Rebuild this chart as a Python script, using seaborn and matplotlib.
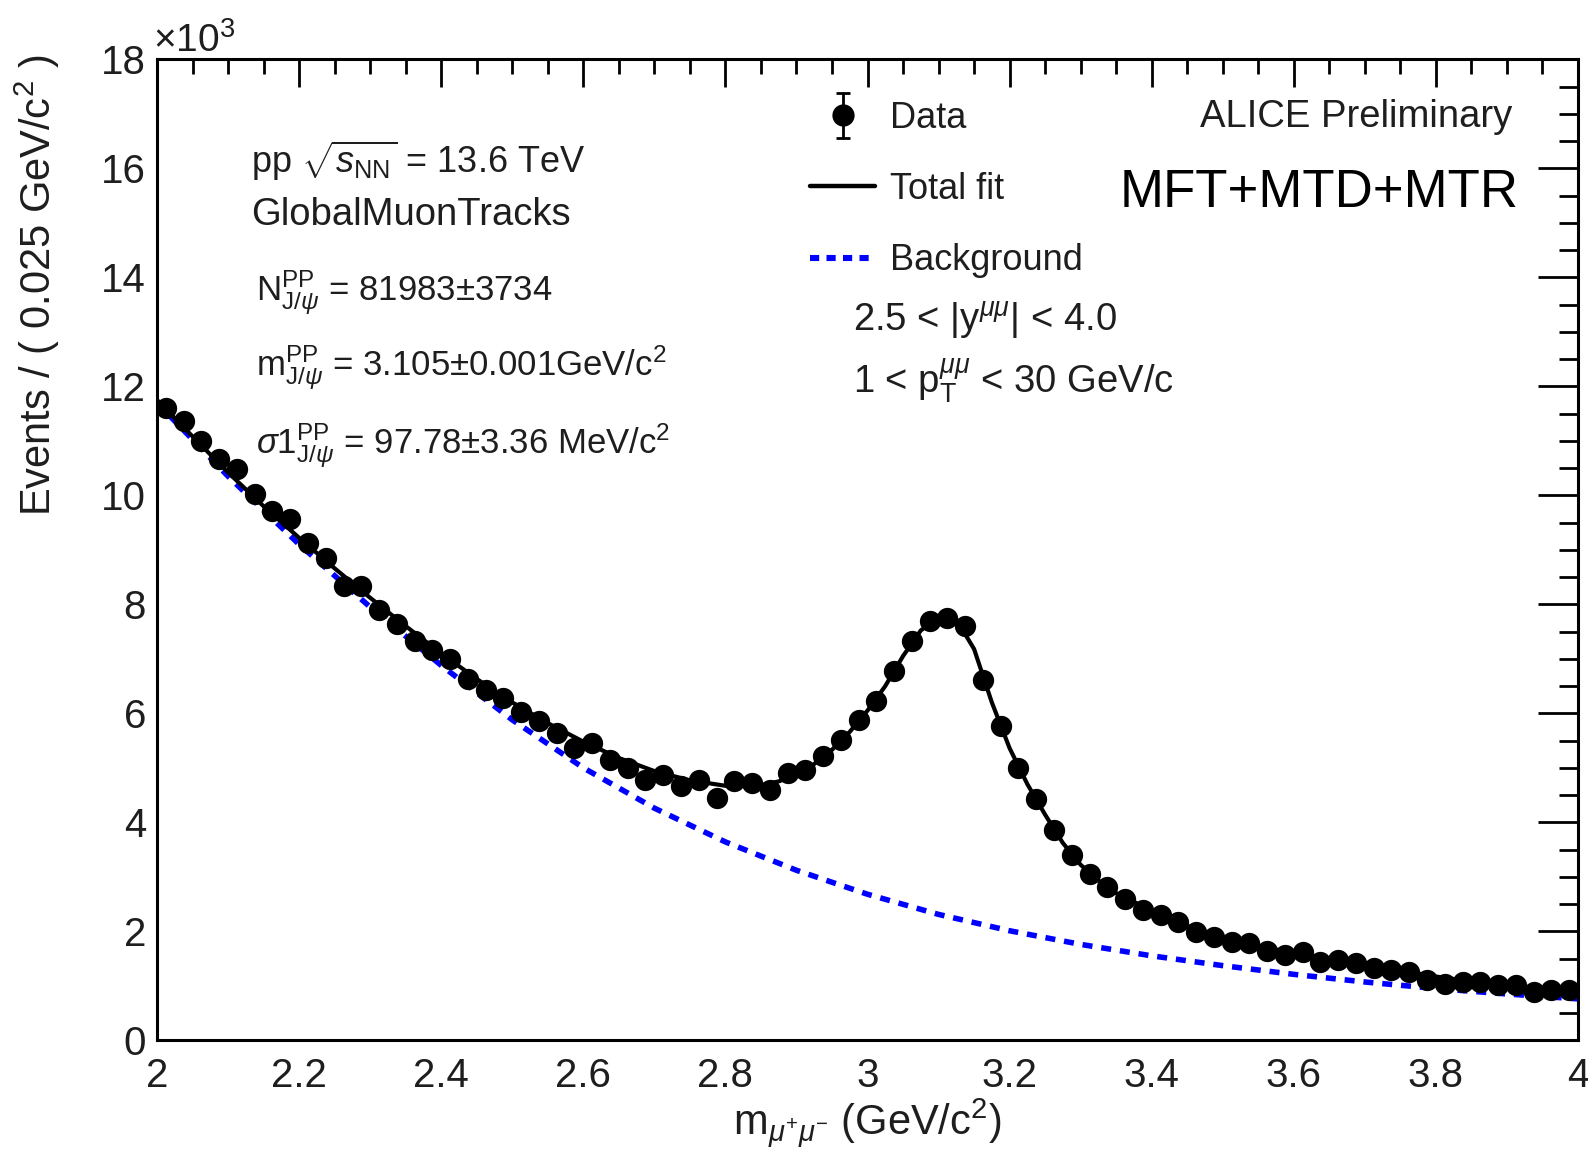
import numpy as np
import pandas as pd
import matplotlib
matplotlib.use("Agg")
import matplotlib.pyplot as plt
import seaborn as sns
from matplotlib.lines import Line2D
from matplotlib.collections import LineCollection
from matplotlib.container import ErrorbarContainer
from matplotlib.legend_handler import HandlerErrorbar
from matplotlib.ticker import MultipleLocator, FuncFormatter

# ---- dimuon invariant-mass spectrum (events per 0.025 GeV/c^2, in units of 10^3) ----
bin_width = 0.025
mass_centres = np.round(2.0 + bin_width * (np.arange(80) + 0.5), 4)
events_k = [
    11.61, 11.37, 11.00, 10.66, 10.48, 10.02, 9.71, 9.56, 9.13, 8.85,
    8.33, 8.33, 7.90, 7.63, 7.32, 7.17, 6.99, 6.63, 6.43, 6.28,
    6.03, 5.85, 5.64, 5.36, 5.45, 5.15, 4.99, 4.78, 4.87, 4.66,
    4.78, 4.44, 4.75, 4.72, 4.60, 4.90, 4.96, 5.21, 5.51, 5.88,
    6.22, 6.77, 7.32, 7.69, 7.75, 7.60, 6.62, 5.76, 4.99, 4.43,
    3.86, 3.40, 3.06, 2.82, 2.60, 2.39, 2.30, 2.17, 1.99, 1.90,
    1.81, 1.78, 1.64, 1.57, 1.62, 1.44, 1.47, 1.41, 1.32, 1.29,
    1.26, 1.10, 1.04, 1.07, 1.07, 1.01, 1.01, 0.89, 0.92, 0.92,
]

# total fit (signal + background)
fit_mass = [
    2.00, 2.05, 2.10, 2.15, 2.20, 2.25, 2.30, 2.35, 2.40, 2.45,
    2.50, 2.55, 2.60, 2.65, 2.70, 2.75, 2.80, 2.85, 2.875, 2.90,
    2.925, 2.95, 2.975, 3.00, 3.025, 3.05, 3.075, 3.10, 3.125, 3.15,
    3.175, 3.20, 3.225, 3.25, 3.275, 3.30, 3.325, 3.35, 3.40, 3.45,
    3.50, 3.55, 3.60, 3.65, 3.70, 3.75, 3.80, 3.85, 3.90, 3.95, 4.00,
]
fit_total = [
    11.75, 11.08, 10.42, 9.80, 9.22, 8.66, 8.12, 7.60, 7.10, 6.63,
    6.20, 5.82, 5.48, 5.18, 4.94, 4.77, 4.67, 4.68, 4.75, 4.88,
    5.07, 5.33, 5.66, 6.05, 6.50, 7.05, 7.52, 7.76, 7.72, 7.18,
    6.20, 5.36, 4.70, 4.14, 3.62, 3.22, 2.93, 2.70, 2.38, 2.10,
    1.88, 1.73, 1.60, 1.49, 1.38, 1.28, 1.17, 1.08, 1.01, 0.95, 0.90,
]

# background component of the fit
bkg_mass = [2.0, 2.1, 2.2, 2.3, 2.4, 2.5, 2.6, 2.7, 2.8, 2.9, 3.0,
            3.1, 3.2, 3.3, 3.4, 3.5, 3.6, 3.7, 3.8, 3.9, 4.0]
bkg_values = [11.70, 10.35, 9.10, 7.95, 6.88, 5.88, 5.00, 4.26, 3.64, 3.12, 2.68,
              2.31, 2.01, 1.76, 1.55, 1.37, 1.21, 1.07, 0.95, 0.85, 0.76]

x_ticks = [2.0, 2.2, 2.4, 2.6, 2.8, 3.0, 3.2, 3.4, 3.6, 3.8, 4.0]
y_ticks = [0, 2, 4, 6, 8, 10, 12, 14, 16, 18]

# ---- style ----
sns.set_theme(style="white")
plt.rcParams["font.family"] = ["Liberation Sans", "DejaVu Sans"]
plt.rcParams["mathtext.fontset"] = "custom"
plt.rcParams["mathtext.rm"] = "Liberation Sans"
plt.rcParams["mathtext.it"] = "Liberation Sans:italic"
plt.rcParams["mathtext.bf"] = "Liberation Sans:bold"
plt.rcParams["mathtext.sf"] = "Liberation Sans"

W, H = 1588, 1153
fig = plt.figure(figsize=(W / 100, H / 100), dpi=100)
fig.patch.set_facecolor("white")

# axes frame in pixel units
ax_l, ax_r, ax_t, ax_b = 157, 1578, 59.3, 1040.3
ax = fig.add_axes([ax_l / W, 1 - ax_b / H, (ax_r - ax_l) / W, (ax_b - ax_t) / H])
ax.set_facecolor("white")

TXT = "#1e1e1e"
BLUE = "#0000ff"

df = pd.DataFrame({"mass": mass_centres, "events": events_k})
sns.lineplot(x=bkg_mass, y=bkg_values, ax=ax, color=BLUE, linewidth=4.0,
             zorder=2, sort=False)
ax.lines[-1].set_linestyle((0, (1.8, 1.6)))
ax.lines[-1].set_dash_capstyle("butt")
sns.lineplot(x=fit_mass, y=fit_total, ax=ax, color="black", linewidth=3.0,
             zorder=2.5, sort=False)
sns.scatterplot(data=df, x="mass", y="events", ax=ax, s=235, color="black",
                edgecolor="black", linewidth=0, zorder=3, legend=False)

ax.set_xlim(2, 4)
ax.set_ylim(0, 18)
ax.set_xticks(x_ticks)
ax.set_yticks(y_ticks)
ax.xaxis.set_major_formatter(FuncFormatter(lambda v, p: f"{v:g}"))
ax.yaxis.set_major_formatter(FuncFormatter(lambda v, p: f"{v:g}"))
ax.xaxis.set_minor_locator(MultipleLocator(0.05))
ax.yaxis.set_minor_locator(MultipleLocator(0.5))

for s in ax.spines.values():
    s.set_linewidth(2.2)
    s.set_color("black")
ax.tick_params(which="both", direction="in", top=True, right=True,
               width=2.0, color="black", labelcolor=TXT, labelsize=29)
ax.tick_params(axis="x", which="major", length=20, pad=12)
ax.tick_params(axis="x", which="minor", length=11)
ax.tick_params(axis="y", which="major", length=29, pad=8)
ax.tick_params(axis="y", which="minor", length=14)

ax.set_xlabel(r"m$_{\mu^{+}\mu^{-}}$ (GeV/c$^{2}$)", fontsize=30, color=TXT)
ax.xaxis.set_label_coords(0.5, (ax_b - 1096) / (ax_b - ax_t))
ax.set_ylabel(r"Events / ( 0.025 GeV/c$^{2}$ )", fontsize=30, color=TXT, loc="top")
ax.yaxis.set_label_coords((62 - ax_l) / (ax_r - ax_l), 1.005)


def ftext(px, py, s, **kw):
    """Place text using pixel positions on the figure canvas."""
    return fig.text(px / W, 1 - py / H, s, **kw)


ftext(153, 52, r"$\times$10$^{3}$", fontsize=28, color=TXT, va="baseline", ha="left")

kw = dict(fontsize=26, color=TXT, va="baseline", ha="left")
kw_m = dict(fontsize=25, color=TXT, va="baseline", ha="left")
ftext(251, 173, r"pp $\sqrt{s_{\mathrm{NN}}}$ = 13.6 TeV", **kw)
ftext(251, 225, "GlobalMuonTracks", fontsize=27.5, color=TXT, va="baseline", ha="left")
ftext(256, 301, r"N$^{\mathrm{PP}}_{\mathrm{J/}\psi}$ = 81983±3734", **kw_m)
ftext(256, 376, r"m$^{\mathrm{PP}}_{\mathrm{J/}\psi}$ = 3.105±0.001GeV/c$^{2}$", **kw_m)
ftext(256, 454, r"$\sigma$1$^{\mathrm{PP}}_{\mathrm{J/}\psi}$ = 97.78±3.36 MeV/c$^{2}$", **kw_m)

ftext(1512, 127, "ALICE Preliminary", fontsize=27.5, color=TXT, va="baseline", ha="right")
ftext(1519, 207, "MFT+MTD+MTR", fontsize=38, color="black", va="baseline", ha="right")
ftext(853, 332, r"2.5 < |y$^{\mu\mu}$| < 4.0", fontsize=27.5, color=TXT, va="baseline", ha="left")
ftext(853, 392, r"1 < p$_{\mathrm{T}}^{\mu\mu}$ < 30 GeV/c", fontsize=27.5, color=TXT, va="baseline", ha="left")

# legend
mk = Line2D([], [], ls="none", marker="o", ms=15, color="black")
cap_a = Line2D([], [], ls="none", marker="_", ms=10, mew=2, color="black")
cap_b = Line2D([], [], ls="none", marker="_", ms=10, mew=2, color="black")
bars = LineCollection([], colors="black", linewidths=2)
data_handle = ErrorbarContainer((mk, (cap_a, cap_b), (bars,)),
                                has_xerr=False, has_yerr=True, label="Data")
fit_handle = Line2D([], [], color="black", lw=3.2)
bkg_handle = Line2D([], [], color=BLUE, lw=4.4, ls=(0, (1.5, 1.2)))

leg = ax.legend([data_handle, fit_handle, bkg_handle],
                ["Data", "Total fit", "Background"],
                handler_map={ErrorbarContainer: HandlerErrorbar(yerr_size=0.62)},
                loc="upper left",
                bbox_to_anchor=((810 - ax_l) / (ax_r - ax_l), (ax_b - 101) / (ax_b - ax_t)),
                frameon=False, fontsize=26, handlelength=1.8, handletextpad=0.42,
                labelspacing=1.0, borderpad=0, borderaxespad=0)
for t in leg.get_texts():
    t.set_color(TXT)

fig.savefig("out.png", dpi=100, facecolor="white")
